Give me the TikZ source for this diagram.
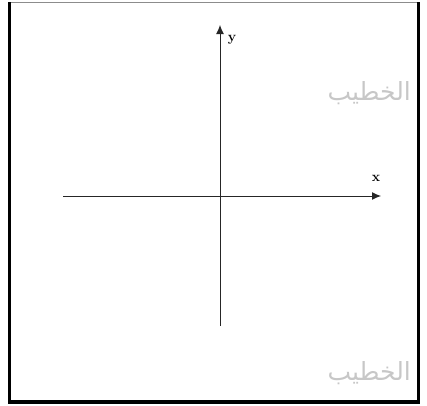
\documentclass[tikz,border=0pt]{standalone}
\usepackage{fontspec}
\newfontfamily\arabicfont[Script=Arabic]{DejaVu Sans}
\TeXXeTstate=1
\usepackage{tikz}
\usetikzlibrary{arrows.meta,positioning}

\begin{document}
\begin{tikzpicture}[
  x=1pt, y=-1pt,
  axis/.style={line width=1pt, black!85, -{Latex[length=9pt,width=8pt]}},
  lbl/.style={font=\fontsize{14}{16}\selectfont\bfseries, inner sep=0pt},
  wmark/.style={text=black!22, inner sep=0pt, anchor=east,
  font=\arabicfont\fontsize{25}{30}\selectfont},
  frame/.style={line width=3.2pt, black}]
\useasboundingbox (0,0) rectangle (427,405);
% frame
\coordinate (tl) at (9.5,2);
\coordinate (tr) at (418.5,2);
\coordinate (bl) at (9.5,402);
\coordinate (br) at (418.5,402);
\draw[black!45, line width=0.8pt] (tl) -- (tr);
\draw[frame] (tl) -- (bl) -- (br) -- (tr);
% axes
\coordinate (xstart) at (63,196);
\coordinate (xend) at (381,196);
\coordinate (ystart) at (220,326);
\coordinate (yend) at (220,25);
\draw[axis] (xstart) -- (xend);
\draw[axis] (ystart) -- (yend);
\node[lbl] (xlabel) at (376,178) {x};
\node[lbl] (ylabel) at (232,40) {y};
% watermarks
\node[wmark] (marktop) at (411,93) {\beginR الخطيب\endR};
\node[wmark] (markbottom) at (411,373) {\beginR الخطيب\endR};
\end{tikzpicture}
\end{document}
